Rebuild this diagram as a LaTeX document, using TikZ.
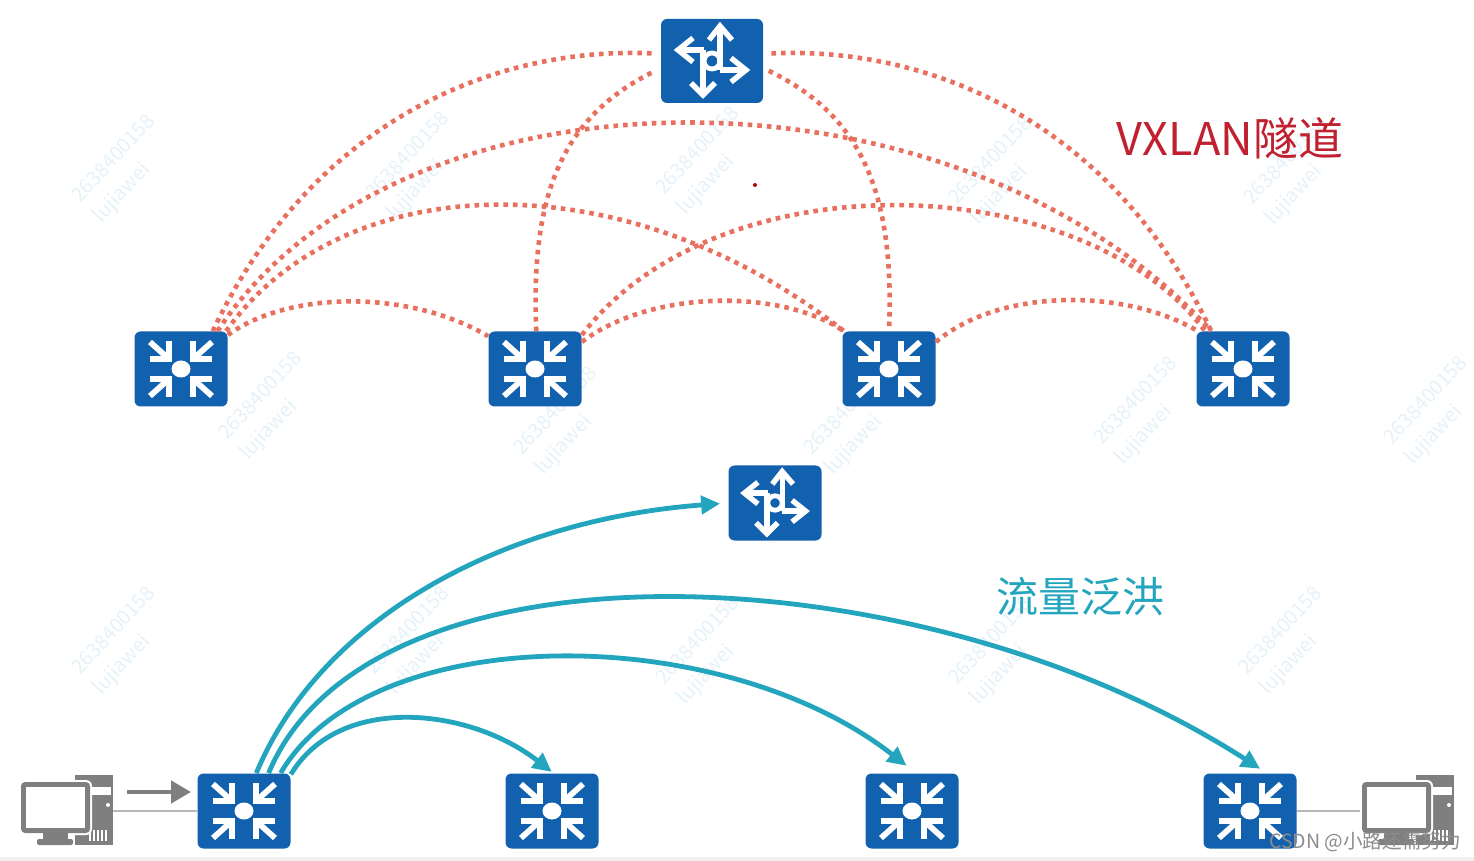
\documentclass[tikz,border=0pt]{standalone}
\usepackage{xcolor}
\usepackage{fontspec}
\usetikzlibrary{positioning, arrows.meta}
\newfontfamily\cjk{Noto Sans CJK SC}
\definecolor{boxblue}{HTML}{1261AE}
\definecolor{tunnelred}{HTML}{E8705F}
\definecolor{floodteal}{HTML}{23A5BE}
\definecolor{titlered}{HTML}{C0202F}
\definecolor{pcgray}{HTML}{7F7F7F}
\definecolor{markpale}{HTML}{E6F2F9}
\tikzset{
  switchicon/.pic={
    \foreach \sx in {-1,1} \foreach \sy in {-1,1} {
      \draw[white,line width=2.9pt,miter limit=4] (\sx*12,\sy*28) -- (\sx*12,\sy*10) -- (\sx*31,\sy*10);
      \draw[white,line width=2.9pt] (\sx*12,\sy*10) -- (\sx*31,\sy*27);
    }
    \fill[white] (0,0) ellipse [x radius=9.5, y radius=8.5];
  },
  routericon/.pic={
    \draw[white,line width=2.7pt] (8,9) -- (8,-34);
    \draw[white,line width=2.7pt] (-9,-11) -- (-9,33);
    \draw[white,line width=2.7pt] (-8,-11) -- (-33,-11);
    \draw[white,line width=2.7pt] (8,9) -- (33,9);
    \draw[white,line width=2.7pt] (-3,-21) -- (8,-35) -- (20,-21);
    \draw[white,line width=2.7pt] (-21,22) -- (-9,34) -- (3,22);
    \draw[white,line width=2.7pt] (-19,-23) -- (-34,-11) -- (-19,1);
    \draw[white,line width=2.7pt] (19,-3) -- (34,9) -- (19,21);
    \draw[white,line width=2.4pt] (0,0) circle [radius=8];
  },
  pcicon/.pic={
    \fill[pcgray] (8,-35) rectangle (46,35);
    \fill[white] (20,-23) rectangle (44,-15);
    \fill[white] (41,-5) circle [radius=2];
    \foreach \gx in {22,26,30,34,38} \fill[white] (\gx,20) rectangle +(1.5,11);
    \fill[white,rounded corners=3pt] (-48,-30) rectangle (25,25);
    \fill[pcgray,rounded corners=2pt] (-46,-28) rectangle (23,23);
    \fill[white] (-41,-23) rectangle (18,18);
    \fill[pcgray] (-24,23) rectangle (1,29);
    \fill[pcgray,rounded corners=1pt] (-30,29) rectangle (6,35);
  }
}
\begin{document}
\begin{tikzpicture}[x=0.5pt,y=-0.5pt,
    swbox/.style={fill=boxblue,rounded corners=3pt,minimum width=46.5pt,minimum height=37.5pt,inner sep=0pt},
    pcbox/.style={minimum width=46pt,minimum height=35pt,inner sep=0pt},
    markbox/.style={markpale,font=\cjk\fontsize{10}{12}\selectfont,rotate=47,inner sep=0pt},
    tunnel/.style={tunnelred,line width=2.3pt,dash pattern=on 2.3pt off 2.5pt},
    flood/.style={floodteal,line width=2.4pt,-{Triangle[length=9.5pt,width=9pt]}}]
    \useasboundingbox (0,0) rectangle (1474,861);
    \fill[white] (0,0) rectangle (1474,861);
    \fill[black!6] (0,857) rectangle (1474,861);

    % watermark
    \foreach \mx/\my in {113/158,407/155,697/150,990/160,1285/160,260/395,555/410,845/410,1135/400,1425/400,113/630,407/630,697/640,990/640,1280/630} {
      \node[markbox] at (\mx,\my) {2638400158};
      \node[markbox] at (\mx+9,\my+35) {lujiawei};
    }

    \node[swbox,minimum width=51pt,minimum height=42pt] (r0) at (712,61) {};
    \node[swbox] (s1) at (181,369) {};
    \node[swbox] (s2) at (535,369) {};
    \node[swbox] (s3) at (889,369) {};
    \node[swbox] (s4) at (1243,369) {};
    \node[swbox] (r1) at (775,503) {};
    \node[swbox] (s5) at (244,811) {};
    \node[swbox] (s6) at (552,811) {};
    \node[swbox] (s7) at (912,811) {};
    \node[swbox] (s8) at (1250,811) {};
    \node[pcbox] (p0) at (67,811) {};
    \node[pcbox] (p1) at (1408,811) {};

    \pic at (r0) {routericon};
    \pic[scale=.9] at (r1) {routericon};
    \foreach \n in {s1,s2,s3,s4,s5,s6,s7,s8} \pic at (\n) {switchicon};

    \draw[black!28,line width=1.2pt] (p0.east) -- (s5.west);
    \draw[black!28,line width=1.2pt] (s8.east) -- (p1.west);
    \pic at ([yshift=.5pt]p0) {pcicon};
    \pic at ([yshift=.5pt]p1) {pcicon};

    \draw[tunnel,shorten >=4pt] (s1.50) .. controls (310,125) and (490,46) .. (r0.172);
    \draw[tunnel] (s1.46) .. controls (400,53) and (960,53) .. (s4.130);
    \draw[tunnel] (s1.40) .. controls (340,170) and (620,155) .. (s3.140);
    \draw[tunnel] (s1.36) .. controls (290,290) and (410,290) .. (s2.145);
    \draw[tunnel,shorten >=3pt] (s2.88) .. controls (530,190) and (565,115) .. (r0.188);
    \draw[tunnel,shorten <=3pt] (r0.-8) .. controls (860,115) and (895,190) .. (s3.90);
    \draw[tunnel,shorten <=4pt] (r0.8) .. controls (934,46) and (1114,125) .. (s4.130);
    \draw[tunnel] (s2.36) .. controls (720,155) and (1085,170) .. (s4.135);
    \draw[tunnel] (s2.30) .. controls (650,290) and (780,288) .. (s3.140);
    \draw[tunnel] (s3.30) .. controls (1000,288) and (1125,288) .. (s4.140);

    \draw[flood,shorten >=4pt] (s5.72) .. controls (320,620) and (500,520) .. (r1.west);
    \draw[flood,shorten >=4pt] (s5.57) .. controls (370,530) and (920,550) .. (s8.66);
    \draw[flood,shorten >=6pt] (s5.46) .. controls (370,620) and (720,620) .. (s7.84);
    \draw[flood,shorten >=1pt] (s5.38) .. controls (340,693) and (470,708) .. (s6.88);

    \coordinate (g0) at (127,792);
    \coordinate (g1) at (191,792);
    \draw[pcgray,line width=2.2pt,-{Triangle[length=10pt,width=11pt]}] (g0) -- (g1);

    \node[text=titlered,font=\cjk\fontsize{22.5}{26}\selectfont,inner sep=0pt] (t0) at (1230,138) {VXLAN隧道};
    \node[text=floodteal,font=\cjk\fontsize{21}{25}\selectfont,inner sep=0pt] (t1) at (1080,597) {流量泛洪};
    \node[text=black!45,font=\cjk\fontsize{9.8}{11}\selectfont,inner sep=0pt] (t2) at (1365,842) {CSDN @小路还需努力};
    \node[circle,fill=red!75!black,inner sep=0pt,minimum size=2pt] (d0) at (755,185) {};
\end{tikzpicture}
\end{document}
